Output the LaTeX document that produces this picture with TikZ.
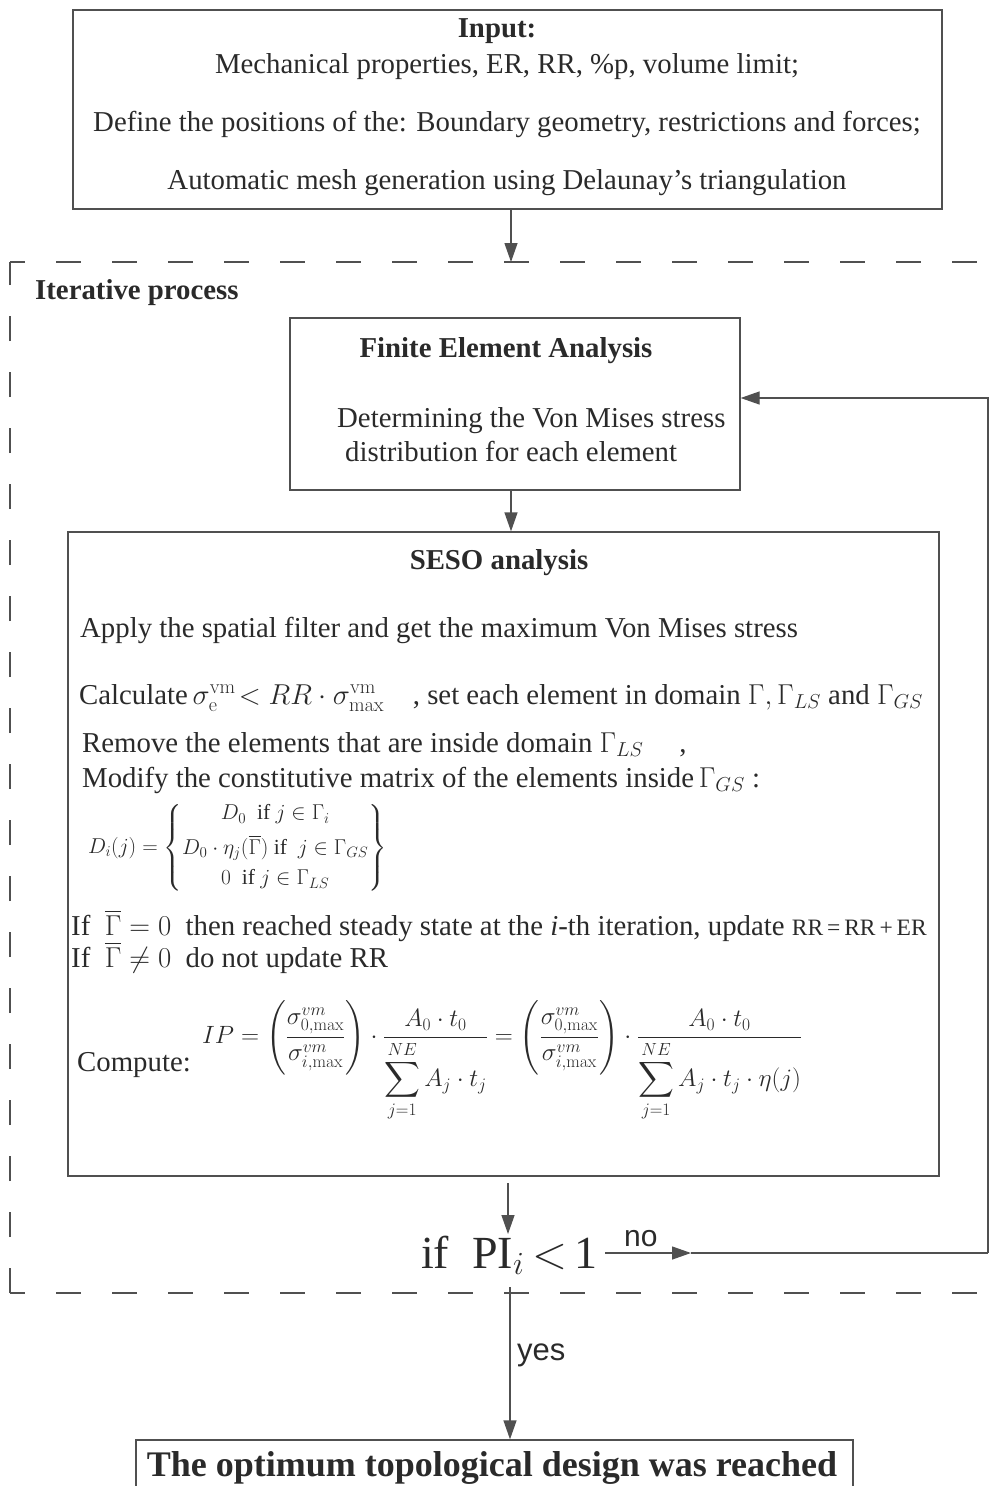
\RequirePackage{fix-cm}
\documentclass[tikz,border=0pt]{standalone}
\usepackage{amsmath}
\usepackage[no-math]{fontspec}
\setmainfont{Liberation Serif}
\newfontfamily\sansf{Liberation Sans}
\usetikzlibrary{arrows.meta}
\definecolor{ln}{HTML}{505050}
\definecolor{tx}{HTML}{2A2A2A}
\newcommand\fsz[1]{\fontsize{#1}{#1}\selectfont}
\tikzset{
  box/.style={draw=ln, line width=1.3pt, inner sep=0pt, fill=none},
  dashline/.style={draw=ln, line width=1.3pt, dash pattern=on 25pt off 31pt},
  txt/.style={inner sep=0pt, text=tx, font=\fsz{28.8}},
  btxt/.style={inner sep=0pt, text=tx, font=\fsz{28.8}\bfseries},
  arr/.style={draw=ln, line width=1.3pt, -{Triangle[length=19pt,width=13pt]}},
  conn/.style={draw=ln, line width=1.3pt},
}
\begin{document}
\begin{tikzpicture}[x=1pt,y=-1pt]
\useasboundingbox (0,0) rectangle (992,1486);
% boxes
\node[box, minimum width=869pt, minimum height=199pt] (input) at (507.5,109.5) {};
\node[box, minimum width=450pt, minimum height=172pt] (fea) at (515,404) {};
\node[box, minimum width=871pt, minimum height=644pt] (seso) at (503.5,854) {};
\node[box, minimum width=717pt, minimum height=100pt] (final) at (494.5,1490) {};
% iterative process dashed frame
\coordinate (iterTL) at (10,262);
\coordinate (iterBL) at (10,1293);
\coordinate (iterTR) at (1000,262);
\coordinate (iterBR) at (1000,1293);
\draw[dashline, dash phase=10pt] (iterTL) -- (iterTR);
\draw[dashline, dash phase=10pt] (iterBL) -- (iterBR);
\draw[dashline] (iterBL) -- (iterTL);
% input texts
\node[btxt, anchor=base] (tin) at (497,37) {Input:};
\node[txt, anchor=base] (t1) at (507,73) {Mechanical properties, ER, RR, \%p, volume limit;};
\node[txt, anchor=base] (t2) at (507,131) {Define the positions of the: Boundary geometry, restrictions and forces;};
\node[txt, anchor=base] (t3) at (507,189) {Automatic mesh generation using Delaunay's triangulation};
% iterative
\node[btxt, anchor=base west] (titer) at (35,299) {Iterative process};
% FEA
\node[btxt, anchor=base] (tfea) at (506,357) {Finite Element Analysis};
\node[txt, anchor=base west] (tfea1) at (337,427) {Determining the Von Mises stress};
\node[txt, anchor=base west] (tfea2) at (345,461) {distribution for each element};
% SESO
\node[btxt, anchor=base] (tseso) at (499,569) {SESO analysis};
\node[txt, anchor=base west] (s1) at (80,637) {Apply the spatial filter and get the maximum Von Mises stress};
\node[txt, anchor=base west] (s2) at (79,704) {Calculate$\,\sigma_{\mathrm{e}}^{\mathrm{vm}}\!<RR\cdot\sigma_{\max}^{\mathrm{vm}}$\quad, set each element in domain $\Gamma,\Gamma_{LS}$ and $\Gamma_{GS}$};
\node[txt, anchor=base west] (s3) at (82,752) {Remove the elements that are inside domain $\Gamma_{LS}$\quad\ ,};
\node[txt, anchor=base west] (s4) at (82,787) {Modify the constitutive matrix of the elements inside$\,\Gamma_{GS}$ :};
\node[txt, anchor=west, font=\fsz{21.5}] (cases) at (88,848) {$D_i(j)=\left\{\begin{array}{@{}c@{}} D_0\ \text{ if } j\in\Gamma_i\\[9pt] D_0\cdot\eta_j(\overline{\Gamma})\text{ if }\ j\in\Gamma_{GS}\\[9pt] 0\ \text{ if } j\in\Gamma_{LS}\end{array}\right\}$};
\node[txt, anchor=base west] (s5) at (71,935) {If\enspace$\overline{\Gamma}=0$\enspace then reached steady state at the \textit{i}-th iteration, update {\fsz{23.5}RR\,=\,RR\,+\,ER}};
\node[txt, anchor=base west] (s6) at (71,967) {If\enspace$\overline{\Gamma}\neq0$\enspace do not update RR};
\node[txt, anchor=base west] (comp) at (77,1071) {Compute:};
\node[txt, anchor=west, font=\fsz{25}] (eq) at (202,1061) {$IP=\left(\dfrac{\sigma^{vm}_{0,\max}}{\sigma^{vm}_{i,\max}}\right)\cdot\dfrac{A_0\cdot t_0}{\displaystyle\sum_{j=1}^{NE}A_j\cdot t_j}=\left(\dfrac{\sigma^{vm}_{0,\max}}{\sigma^{vm}_{i,\max}}\right)\cdot\dfrac{\quad A_0\cdot t_0\quad}{\displaystyle\sum_{j=1}^{NE}A_j\cdot t_j\cdot\eta(j)}$};
% decision
\node[txt, anchor=base west, font=\fsz{46}] (ifpi) at (421,1268) {if\ \ PI$_i$\,$<$\,1};
\node[txt, anchor=base west, font=\fsz{30}\sansf] (no) at (624,1246) {no};
\node[txt, anchor=base west, font=\fsz{31}\sansf] (yes) at (517,1360) {yes};
% final text
\node[btxt, anchor=base, font=\fsz{36}\bfseries] (tfin) at (492,1476) {The optimum topological design was reached};
% connectors
\coordinate (c1) at (511,209);
\draw[arr] (c1) -- (c1 |- iterTL);
\coordinate (c2) at (511,490);
\draw[arr] (c2) -- (c2 |- seso.north);
\coordinate (c3) at (508,1183);
\coordinate (c3e) at (508,1234);
\draw[arr] (c3) -- (c3e);
\coordinate (n0) at (605,1253);
\coordinate (n1) at (691,1253);
\coordinate (n2) at (988,1253);
\draw[arr] (n0) -- (n1);
\draw[conn] (n1) -- (n2);
\draw[arr] (n2) |- (fea.east |- 0,398);
\coordinate (y0) at (510,1287);
\draw[arr] (y0) -- (y0 |- final.north);
\end{tikzpicture}
\end{document}
